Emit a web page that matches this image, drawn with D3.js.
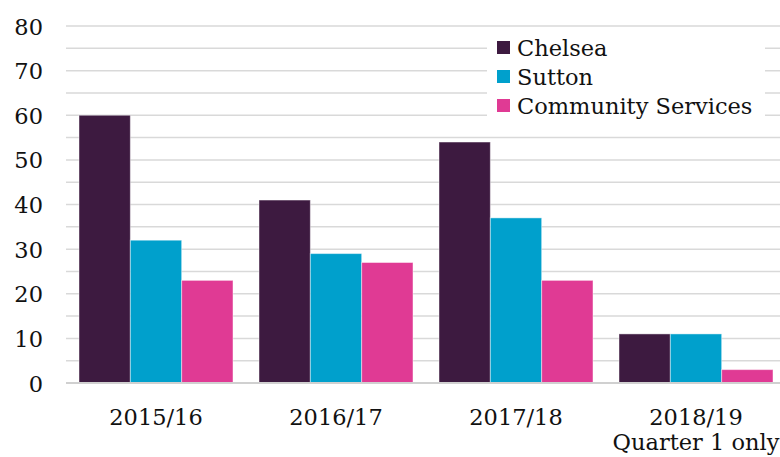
<!DOCTYPE html>
<html>
<head>
<meta charset="utf-8">
<script src="https://cdn.jsdelivr.net/npm/d3@7"></script>
<style>
  html, body { margin: 0; padding: 0; background: #fff; }
  svg { display: block; }
  text { font-family: "DejaVu Serif", "Liberation Serif", serif; fill: #111; }
</style>
</head>
<body>
<svg id="chart" width="780" height="457"></svg>
<script>
// Financial years (the last one covers a single quarter)
const years = ["2015/16", "2016/17", "2017/18", "2018/19"];
const yearSubLabels = ["", "", "", "Quarter 1 only"];

const seriesNames = ["Chelsea", "Sutton", "Community Services"];
const seriesColors = ["#3d1a40", "#00a0cc", "#e03a94"];

const chelsea = [60, 41, 54, 11];
const sutton = [32, 29, 37, 11];
const community = [23, 27, 23, 3];

const yTicks = [0, 10, 20, 30, 40, 50, 60, 70, 80];
const yGrid = [5, 10, 15, 20, 25, 30, 35, 40, 45, 50, 55, 60, 65, 70, 75, 80];

const seriesValues = [chelsea, sutton, community];

const FONT_SIZE = 22.5;

const svg = d3.select("#chart");
const plot = { left: 66, right: 786, top: 26, bottom: 383 };

const x0 = d3.scaleBand()
  .domain(years)
  .range([plot.left, plot.right])
  .paddingInner(26 / 180)
  .paddingOuter(13 / 180);

const x1 = d3.scaleBand()
  .domain(seriesNames)
  .range([0, x0.bandwidth()])
  .padding(0);

const y = d3.scaleLinear().domain([0, 80]).range([plot.bottom, plot.top]);

// Horizontal gridlines
svg.append("g").selectAll("line")
  .data(yGrid)
  .join("line")
  .attr("x1", plot.left)
  .attr("x2", 780)
  .attr("y1", d => y(d))
  .attr("y2", d => y(d))
  .attr("stroke", "#d9d9d9")
  .attr("stroke-width", 1.5);

// Bars
const groups = svg.append("g").selectAll("g")
  .data(years)
  .join("g")
  .attr("transform", d => `translate(${x0(d)},0)`);

groups.selectAll("rect")
  .data((yr, i) => seriesNames.map((s, k) => ({ s, k, v: seriesValues[k][i] })))
  .join("rect")
  .attr("x", d => x1(d.s))
  .attr("width", x1.bandwidth())
  .attr("y", d => y(d.v))
  .attr("height", d => y(0) - y(d.v))
  .attr("fill", d => seriesColors[d.k])
  .attr("stroke", "#ffffff")
  .attr("stroke-opacity", 0.45)
  .attr("stroke-width", 1);

// Baseline
svg.append("line")
  .attr("x1", plot.left).attr("x2", 780)
  .attr("y1", y(0)).attr("y2", y(0))
  .attr("stroke", "#d0d0d0")
  .attr("stroke-width", 2);

// Y axis labels
const yAxis = d3.axisLeft(y).tickValues(yTicks).tickSize(0).tickPadding(0);
const gy = svg.append("g")
  .attr("transform", `translate(43,0)`)
  .call(yAxis);
gy.select(".domain").remove();
gy.selectAll("text")
  .attr("font-size", FONT_SIZE)
  .attr("font-family", "DejaVu Serif")
  .attr("fill", "#111")
  .attr("dy", "0.36em");

// X axis labels
const xAxis = d3.axisBottom(x0).tickSize(0).tickPadding(0);
const gx = svg.append("g")
  .attr("transform", `translate(0,${plot.bottom})`)
  .call(xAxis);
gx.select(".domain").remove();
gx.selectAll("text")
  .attr("font-size", FONT_SIZE)
  .attr("font-family", "DejaVu Serif")
  .attr("fill", "#111")
  .attr("y", 42)
  .attr("dy", 0);
gx.selectAll(".tick")
  .append("text")
  .attr("text-anchor", "middle")
  .attr("font-size", FONT_SIZE)
  .attr("font-family", "DejaVu Serif")
  .attr("fill", "#111")
  .attr("y", 67)
  .text((d, i) => yearSubLabels[i]);

// Legend
const legend = svg.append("g").attr("transform", "translate(487,29)");
legend.append("rect")
  .attr("width", 278).attr("height", 94)
  .attr("fill", "#fff");
const items = legend.selectAll("g.item")
  .data(seriesNames)
  .join("g")
  .attr("class", "item")
  .attr("transform", (d, i) => `translate(10,${12 + i * 29})`);
items.append("rect")
  .attr("width", 13).attr("height", 13)
  .attr("fill", (d, i) => seriesColors[i]);
items.append("text")
  .attr("x", 20)
  .attr("y", 6.5)
  .attr("dy", "0.36em")
  .attr("font-size", FONT_SIZE)
  .text(d => d);
</script>
</body>
</html>
